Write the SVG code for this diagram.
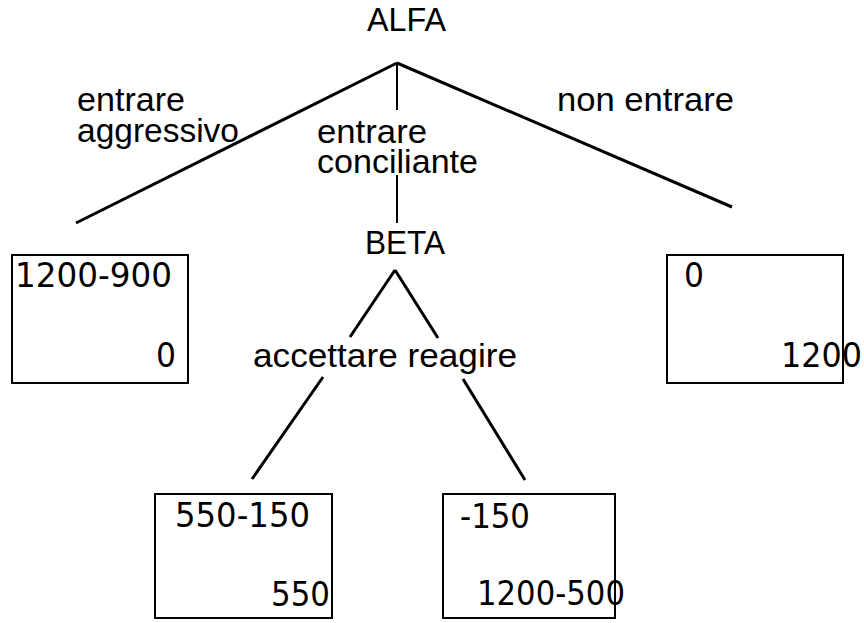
<svg xmlns="http://www.w3.org/2000/svg" width="864" height="623" viewBox="0 0 864 623">
<style>
text{font-family:"Liberation Sans",Arial,sans-serif;font-size:33px;fill:#000}
.n{font-family:"DejaVu Sans","Liberation Sans",sans-serif;font-size:33px}
.e{stroke:#000;stroke-width:3;fill:none}
.t{stroke:#000;stroke-width:2;fill:none}
.b{stroke:#000;stroke-width:2;fill:none}
</style>
<rect width="864" height="623" fill="#fff"/>
<g id="connectors">
<line class="e" x1="397" y1="63" x2="76" y2="223"/>
<line class="e" x1="397" y1="63" x2="732" y2="207"/>
<line class="t" x1="397" y1="63" x2="397" y2="110"/>
<line class="t" x1="397" y1="175" x2="397" y2="223"/>
<line class="e" x1="395" y1="270" x2="350" y2="337"/>
<line class="e" x1="395" y1="270" x2="438" y2="338"/>
<line class="e" x1="323" y1="377" x2="252" y2="479"/>
<line class="e" x1="463" y1="379" x2="525" y2="480"/>
</g>
<g id="alfa"><text x="367" y="31" textLength="79" lengthAdjust="spacingAndGlyphs">ALFA</text></g>
<g id="lbl-aggressivo"><text x="77" y="111" textLength="108" lengthAdjust="spacingAndGlyphs">entrare</text><text x="77" y="142" textLength="162" lengthAdjust="spacingAndGlyphs">aggressivo</text></g>
<g id="lbl-conciliante"><text x="317" y="143" textLength="110" lengthAdjust="spacingAndGlyphs">entrare</text><text x="317" y="173" textLength="161" lengthAdjust="spacingAndGlyphs">conciliante</text></g>
<g id="lbl-non"><text x="557" y="111" textLength="177" lengthAdjust="spacingAndGlyphs">non entrare</text></g>
<g id="beta"><text x="365" y="254" textLength="80" lengthAdjust="spacingAndGlyphs">BETA</text></g>
<g id="lbl-beta"><text x="253" y="367" textLength="264" lengthAdjust="spacingAndGlyphs">accettare reagire</text></g>
<g id="box1"><rect class="b" x="12" y="255" width="176" height="128"/><text class="n" x="15" y="287" textLength="157" lengthAdjust="spacingAndGlyphs">1200-900</text><text class="n" x="156" y="367" textLength="20" lengthAdjust="spacingAndGlyphs">0</text></g>
<g id="box2"><rect class="b" x="667" y="255" width="176" height="128"/><text class="n" x="684" y="287" textLength="20" lengthAdjust="spacingAndGlyphs">0</text><text class="n" x="781" y="367" textLength="81" lengthAdjust="spacingAndGlyphs">1200</text></g>
<g id="box3"><rect class="b" x="155" y="494" width="177" height="124"/><text class="n" x="175" y="527" textLength="135" lengthAdjust="spacingAndGlyphs">550-150</text><text class="n" x="271" y="606" textLength="59" lengthAdjust="spacingAndGlyphs">550</text></g>
<g id="box4"><rect class="b" x="443" y="494" width="172" height="124"/><text class="n" x="460" y="528" textLength="70" lengthAdjust="spacingAndGlyphs">-150</text><text class="n" x="477" y="605" textLength="148" lengthAdjust="spacingAndGlyphs">1200-500</text></g>
</svg>
